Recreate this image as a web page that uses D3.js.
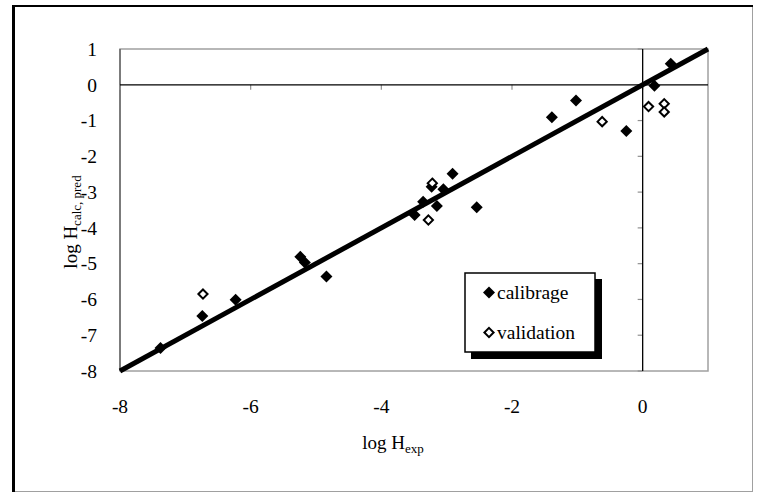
<!DOCTYPE html>
<html><head><meta charset="utf-8">
<script src="https://cdn.jsdelivr.net/npm/d3@7"></script>
<style>body{margin:0;background:#fff}svg{display:block}</style>
</head><body><svg id="c" width="758" height="493"></svg>
<script>
const calibrageX = [-7.38,-6.74,-6.23,-5.24,-5.17,-4.84,-3.49,-3.36,-3.23,-3.15,-3.05,-2.91,-2.54,-1.39,-1.02,-0.25,0.18,0.43];
const calibrageY = [-7.36,-6.46,-6.01,-4.81,-4.97,-5.36,-3.64,-3.27,-2.85,-3.39,-2.92,-2.49,-3.42,-0.91,-0.44,-1.29,-0.03,0.59];
const validationX = [-6.73,-3.28,-3.22,-0.62,0.09,0.33,0.33];
const validationY = [-5.85,-3.78,-2.75,-1.03,-0.61,-0.53,-0.76];
const fitLine = [[-8,-8],[1,1]];
const xTicks = [-8,-6,-4,-2,0];
const yTicks = [1,0,-1,-2,-3,-4,-5,-6,-7,-8];
const seriesNames = ["calibrage","validation"];

function hasFont(name){
  const c=document.createElement("canvas").getContext("2d");
  const s="mmmmmmmmmmlli1234567890WwQq";
  for(const base of ["monospace","sans-serif"]){
    c.font="40px "+base; const w0=c.measureText(s).width;
    c.font="40px '"+name+"', "+base; const w1=c.measureText(s).width;
    if(w0!==w1) return true;
  }
  return false;
}
const cands=["Liberation Serif","Times New Roman","Tinos","DejaVu Serif","Noto Serif"];
const FONT=(cands.find(hasFont)||"serif");

const svg = d3.select("#c").attr("font-family", "'"+FONT+"', serif");
const L=120,R=708,T=49,B=371;
const x = d3.scaleLinear().domain([-8,1]).range([L,R]);
const y = d3.scaleLinear().domain([-8,1]).range([B,T]);

// outer chart border
svg.append("rect").attr("x",13).attr("y",5.5).attr("width",739.5).attr("height",486).attr("fill","none").attr("stroke","#a0a0a0").attr("stroke-width",1);
svg.append("line").attr("x1",13.5).attr("x2",13.5).attr("y1",5).attr("y2",492).attr("stroke","#000").attr("stroke-width",3);
svg.append("line").attr("x1",12).attr("x2",753).attr("y1",6).attr("y2",6).attr("stroke","#000").attr("stroke-width",2);

// plot area border
svg.append("rect").attr("x",L).attr("y",T).attr("width",R-L).attr("height",B-T).attr("fill","none").attr("stroke","#a0a0a0").attr("stroke-width",1.5);
svg.append("line").attr("x1",L).attr("x2",L).attr("y1",T).attr("y2",B).attr("stroke","#404040").attr("stroke-width",1);

// axes through zero
const g = svg.append("g");
d3.range(-8,2).forEach(v=>{
  g.append("line").attr("x1",x(0)-5).attr("x2",x(0)).attr("y1",y(v)).attr("y2",y(v)).attr("stroke","#909090").attr("stroke-width",1.2);
});
xTicks.forEach(v=>{
  g.append("line").attr("x1",x(v)).attr("x2",x(v)).attr("y1",y(0)).attr("y2",y(0)+5).attr("stroke","#909090").attr("stroke-width",1.2);
});
g.append("line").attr("x1",x(0)).attr("x2",x(0)).attr("y1",T).attr("y2",B).attr("stroke","#000").attr("stroke-width",1.3);
g.append("line").attr("x1",L).attr("x2",R).attr("y1",y(0)).attr("y2",y(0)).attr("stroke","#000").attr("stroke-width",1.3);

// tick labels
svg.append("g").selectAll("text").data(yTicks).join("text")
  .attr("x",97).attr("y",d=>y(d)).attr("dy","0.35em").attr("text-anchor","end").attr("font-size",19.5).text(d=>d);
svg.append("g").selectAll("text").data(xTicks).join("text")
  .attr("x",d=>x(d)).attr("y",413).attr("text-anchor","middle").attr("font-size",19.5).text(d=>d);

// axis titles
const xt = svg.append("text").attr("x",393).attr("y",449).attr("text-anchor","middle").attr("font-size",19);
xt.append("tspan").text("log H");
xt.append("tspan").attr("font-size",13).attr("dy",4).text("exp");
const yt = svg.append("text").attr("transform","translate(77,222) rotate(-90)").attr("text-anchor","middle").attr("font-size",19);
yt.append("tspan").text("log H");
yt.append("tspan").attr("font-size",13).attr("dy",4).text("calc, pred");

// fit line
svg.append("path").datum(fitLine).attr("d",d3.line().x(d=>x(d[0])).y(d=>y(d[1])))
  .attr("stroke","#000").attr("stroke-width",5).attr("fill","none");

// points
const dpath = "M0,-6L6,0L0,6L-6,0Z";
const opath = "M0,-4.6L4.6,0L0,4.6L-4.6,0Z";
svg.append("g").selectAll("path").data(calibrageX.map((v,i)=>[v,calibrageY[i]])).join("path")
  .attr("d",dpath).attr("transform",d=>`translate(${x(d[0])},${y(d[1])})`).attr("fill","#000");
svg.append("g").selectAll("path").data(validationX.map((v,i)=>[v,validationY[i]])).join("path")
  .attr("d",opath).attr("transform",d=>`translate(${x(d[0])},${y(d[1])})`).attr("fill","#fff").attr("stroke","#000").attr("stroke-width",2);

// legend
const lg = svg.append("g");
lg.append("rect").attr("x",471).attr("y",279).attr("width",131).attr("height",80).attr("fill","#000");
lg.append("rect").attr("x",465).attr("y",273).attr("width",130).attr("height",79).attr("fill","#fff").attr("stroke","#000").attr("stroke-width",1.5);
lg.append("path").attr("d",dpath).attr("transform","translate(489,292.5)").attr("fill","#000");
lg.append("path").attr("d",opath).attr("transform","translate(489,332.5)").attr("fill","#fff").attr("stroke","#000").attr("stroke-width",2);
lg.append("text").attr("x",497).attr("y",298.5).attr("font-size",19.5).text(seriesNames[0]);
lg.append("text").attr("x",497).attr("y",338.5).attr("font-size",19.5).text(seriesNames[1]);
</script></body></html>
